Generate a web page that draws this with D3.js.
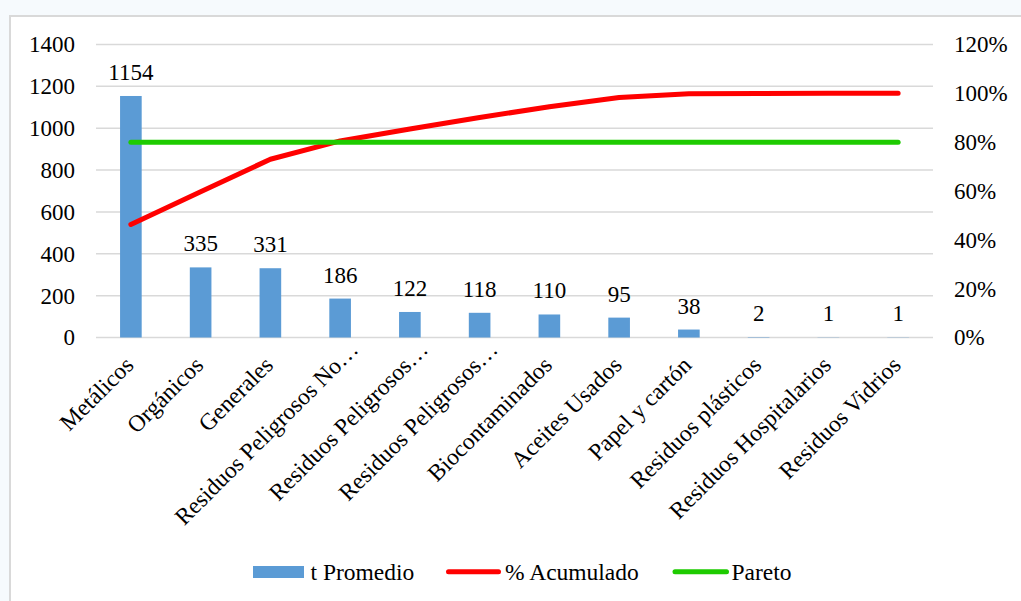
<!DOCTYPE html>
<html>
<head>
<meta charset="utf-8">
<script src="https://cdn.jsdelivr.net/npm/d3@7"></script>
<style>
  html, body { margin: 0; padding: 0; background: #f6fafd; }
  svg { display: block; }
  svg text { fill: #000; }
</style>
</head>
<body>
<svg id="chart" width="1021" height="601"></svg>
<script>
// Waste categories and average tonnage
const categories = [
  "Metálicos", "Orgánicos", "Generales", "Residuos Peligrosos No…",
  "Residuos Peligrosos…", "Residuos Peligrosos…", "Biocontaminados",
  "Aceites Usados", "Papel y cartón", "Residuos plásticos",
  "Residuos Hospitalarios", "Residuos Vidrios"
];
const tPromedio = [1154, 335, 331, 186, 122, 118, 110, 95, 38, 2, 1, 1];
// Cumulative share (%) per category
const acumulado = [46.3, 59.7, 73.0, 80.5, 85.4, 90.1, 94.5, 98.3, 99.8, 99.9, 100, 100];
// Pareto threshold (%)
const pareto = [80, 80, 80, 80, 80, 80, 80, 80, 80, 80, 80, 80];
const leftTicks = [0, 200, 400, 600, 800, 1000, 1200, 1400];
const rightTicks = [0, 20, 40, 60, 80, 100, 120];
const legendLabels = ["t Promedio", "% Acumulado", "Pareto"];

const colors = { bar: "#5b9bd5", cum: "#ff0000", pareto: "#1ecb00", grid: "#d9d9d9" };
const FONT = '"Liberation Serif", "Times New Roman", serif';
const FS_NUM = "23px";
const FS_TXT = "23.5px";

const svg = d3.select("#chart").style("font-family", FONT);

// chart frame
svg.append("rect")
  .attr("x", 10).attr("y", 16).attr("width", 1030).attr("height", 600)
  .attr("fill", "#ffffff").attr("stroke", "#d9d9d9").attr("stroke-width", 2);

const plot = { left: 96, right: 933, top: 44.5, bottom: 337.5 };

const x = d3.scaleBand().domain(d3.range(categories.length))
  .range([plot.left, plot.right]).paddingInner(0.69).paddingOuter(0.345);
const yL = d3.scaleLinear().domain([0, 1400]).range([plot.bottom, plot.top]);
const yR = d3.scaleLinear().domain([0, 120]).range([plot.bottom, plot.top]);
const cx = i => x(i) + x.bandwidth() / 2;

// gridlines
svg.append("g").selectAll("line").data(leftTicks).join("line")
  .attr("x1", plot.left).attr("x2", plot.right)
  .attr("y1", d => yL(d)).attr("y2", d => yL(d))
  .attr("stroke", colors.grid).attr("stroke-width", 1.5);

// left axis
const axL = svg.append("g").attr("transform", `translate(${plot.left},0)`)
  .call(d3.axisLeft(yL).tickValues(leftTicks).tickSize(0).tickPadding(21).tickFormat(d3.format("d")));
axL.attr("font-family", FONT).attr("font-size", FS_NUM);
axL.select(".domain").remove();

// right axis
const axR = svg.append("g").attr("transform", `translate(${plot.right},0)`)
  .call(d3.axisRight(yR).tickValues(rightTicks).tickSize(0).tickPadding(21).tickFormat(d => d + "%"));
axR.attr("font-family", FONT).attr("font-size", FS_NUM);
axR.select(".domain").remove();

// bars
svg.append("g").selectAll("rect").data(tPromedio).join("rect")
  .attr("x", (d, i) => x(i)).attr("width", x.bandwidth())
  .attr("y", d => yL(d)).attr("height", d => plot.bottom - yL(d))
  .attr("fill", colors.bar);

// bar value labels
svg.append("g").selectAll("text").data(tPromedio).join("text")
  .attr("x", (d, i) => cx(i)).attr("y", d => yL(d) - 16)
  .attr("text-anchor", "middle").style("font-size", FS_NUM)
  .text(d => d);

// category labels, rotated; truncated labels sit a little further out
svg.append("g").selectAll("text").data(categories).join("text")
  .attr("transform", (d, i) => `translate(${cx(i) + 4},${plot.bottom + 29}) rotate(-45)`)
  .attr("text-anchor", "end")
  .attr("dx", d => d.endsWith("…") ? 22 : 0)
  .style("font-size", FS_TXT)
  .text(d => d);

// lines
const line = d3.line().x((d, i) => cx(i)).y(d => yR(d));
svg.append("path").datum(acumulado).attr("d", line)
  .attr("fill", "none").attr("stroke", colors.cum).attr("stroke-width", 5)
  .attr("stroke-linecap", "round").attr("stroke-linejoin", "round");
svg.append("path").datum(pareto).attr("d", line)
  .attr("fill", "none").attr("stroke", colors.pareto).attr("stroke-width", 5)
  .attr("stroke-linecap", "round").attr("stroke-linejoin", "round");

// legend
const lg = svg.append("g").style("font-size", FS_TXT);
lg.append("rect").attr("x", 253).attr("y", 566).attr("width", 51).attr("height", 12).attr("fill", colors.bar);
lg.append("text").attr("x", 310.5).attr("y", 580).text(legendLabels[0]);
lg.append("line").attr("x1", 448.5).attr("x2", 498.5).attr("y1", 571.7).attr("y2", 571.7)
  .attr("stroke", colors.cum).attr("stroke-width", 5).attr("stroke-linecap", "round");
lg.append("text").attr("x", 505).attr("y", 580).text(legendLabels[1]);
lg.append("line").attr("x1", 675).attr("x2", 726.5).attr("y1", 571.7).attr("y2", 571.7)
  .attr("stroke", colors.pareto).attr("stroke-width", 5).attr("stroke-linecap", "round");
lg.append("text").attr("x", 731.5).attr("y", 580).text(legendLabels[2]);
</script>
</body>
</html>
